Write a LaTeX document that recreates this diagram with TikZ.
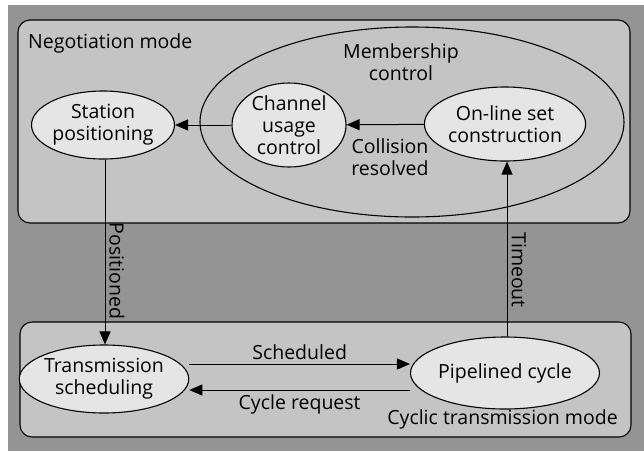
\documentclass[tikz,border=0pt]{standalone}
\usepackage{fontspec}
\setmainfont{Open Sans}
\usetikzlibrary{arrows.meta,shapes.geometric}
\definecolor{bgdark}{gray}{0.58}
\definecolor{panel}{gray}{0.77}
\definecolor{ellfill}{gray}{0.9}
\tikzset{
  panelbox/.style={draw=black,line width=1.1pt,fill=panel,rounded corners=12pt},
  state/.style={ellipse,draw=black,line width=1.1pt,fill=ellfill,inner sep=0pt,align=center,font=\fontsize{19.5}{22}\selectfont},
  lbl/.style={align=center,font=\fontsize{19.5}{22}\selectfont,inner sep=0pt},
  conn/.style={draw=black,line width=1pt,-{Triangle[length=13pt,width=11pt]}},
}
\begin{document}
\begin{tikzpicture}[x=1pt,y=-1pt]
\useasboundingbox (0,0) rectangle (644,451);
\fill[bgdark] (8,5) rectangle (644,451);
\draw[panelbox] (18,20) rectangle (630,223);
\draw[panelbox] (20,322) rectangle (631,437);
\draw[line width=1.1pt,fill=panel] (412,122) ellipse [x radius=212,y radius=95];
\node[lbl,anchor=west] (neg) at (28,43) {Negotiation mode};
\node[lbl] (mem) at (401,62) {Membership\\control};
\node[lbl] (coll) at (390,157) {Collision\\resolved};
\node[lbl,anchor=east] (cyc) at (618,419) {Cyclic transmission mode};
\node[state,minimum width=136pt,minimum height=68pt] (sp) at (103,125) {Station\\positioning};
\node[state,minimum width=114pt,minimum height=84pt] (cu) at (289,125) {Channel\\usage\\control};
\node[state,minimum width=152pt,minimum height=74pt] (ol) at (505,124) {On-line set\\construction};
\node[state,minimum width=158pt,minimum height=68pt] (ts) at (104,379) {Transmission\\scheduling};
\node[state,minimum width=178pt,minimum height=72pt] (pc) at (505,373) {Pipelined cycle};
\draw[conn] (ol) -- (cu);
\draw[conn] (cu) -- (sp);
\coordinate (tsa) at (105,345);
\draw[conn] (sp.south -| tsa) -- (ts.north -| tsa);
\node[lbl,rotate=-90] (posl) at (117,271) {Positioned};
\coordinate (ola) at (507,161);
\draw[conn] (pc.north -| ola) -- (ol.south -| ola);
\node[lbl,rotate=-90] (tol) at (519,270) {Timeout};
\coordinate (sy) at (300,364);
\coordinate (cy) at (300,390);
\draw[conn] (ts.east |- sy) -- (pc.west |- sy) node[midway,lbl,above=4pt] {Scheduled};
\draw[conn] (pc.west |- cy) -- (ts.east |- cy) node[midway,lbl,below=4pt] {Cycle request};
\end{tikzpicture}
\end{document}
